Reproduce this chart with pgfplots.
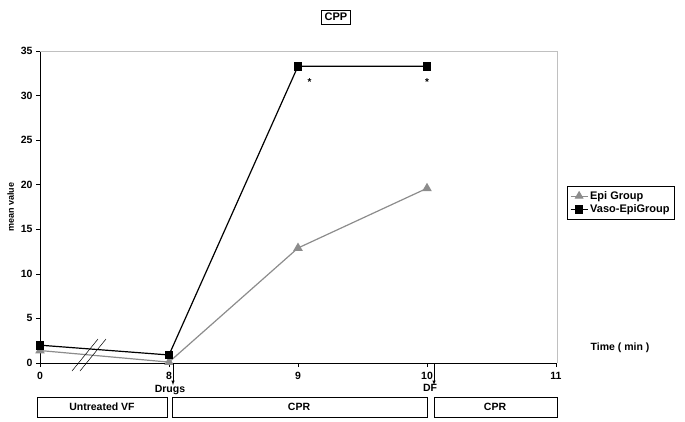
\documentclass[border=0pt]{standalone}
\usepackage{pgfplots}
\pgfplotsset{compat=1.18}
\usepackage{fontspec}
\setmainfont{Liberation Sans}
\definecolor{epigray}{HTML}{8C8C8C}
\definecolor{framegray}{HTML}{C0C0C0}

\begin{document}
\begin{tikzpicture}[font=\bfseries\fontsize{10}{11}\selectfont]
\begin{scope}[x=1pt,y=1pt]
\path[use as bounding box] (0,0) rectangle (685,-421);
\end{scope}
\begin{axis}[
  at={(40pt,-363pt)}, anchor=south west,
  width=516pt, height=312pt, scale only axis,
  xmin=0, xmax=4, ymin=0, ymax=35,
  xtick={0,1,2,3,4}, xticklabels={0,8,9,10,11},
  ytick={0,5,...,35},
  axis x line*=bottom, axis y line*=left,
  tick align=outside, tick style={black, line width=0.5pt},
  major tick length=4pt,
  x tick label style={yshift=-2pt},
  tick label style={font=\bfseries\fontsize{10.5}{12}\selectfont},
  /pgf/number format/assume math mode=true,
  axis line style={black, line width=0.8pt},
  ylabel={mean value},
  ylabel style={font=\bfseries\fontsize{9}{10}\selectfont},
  legend style={at={(1.021,0.567)}, anchor=north west, draw=black, line width=0.5pt,
    font=\bfseries\fontsize{11}{13}\selectfont, row sep=0pt, inner sep=3pt},
  legend cell align=left,
  legend image post style={line width=1pt},
  clip=false,
]
\addplot[epigray, line width=1.2pt, mark=triangle*, mark size=4.3pt, mark options={fill=epigray, draw=epigray}]
  coordinates {(0,1.4) (1,0.1) (2,12.9) (3,19.6)};
\addlegendentry{Epi Group}
\addplot[black, line width=1.2pt, mark=square*, mark size=3.8pt, mark options={fill=black}]
  coordinates {(0,2.0) (1,0.9) (2,33.3) (3,33.3)};
\addlegendentry{Vaso-EpiGroup}
\node[font=\bfseries\fontsize{10}{11}\selectfont] at (axis cs:2.09,31.5) {*};
\node[font=\bfseries\fontsize{10}{11}\selectfont] at (axis cs:3,31.5) {*};
\end{axis}
\begin{scope}[x=1pt,y=1pt]
% frame top and right
\draw[framegray, line width=1pt] (40,-51) -- (557,-51) -- (557,-363);
% title
\node[draw=black, line width=0.5pt, inner sep=3pt, font=\bfseries\fontsize{11}{12}\selectfont] at (336,-17) {CPP};
% axis break
\draw[black, line width=0.5pt] (72,-371) -- (98,-339);
\draw[black, line width=0.5pt] (80,-371) -- (106,-339);
% time label
\node[font=\bfseries\fontsize{10.5}{12}\selectfont] at (620,-348) {Time ( min )};
% arrows
\draw[-latex, line width=0.5pt] (173,-363) -- (173,-385);
\node[font=\bfseries\fontsize{10.5}{12}\selectfont] at (170,-390) {Drugs};
\draw[-latex, line width=0.5pt] (434,-363) -- (434,-385);
\node[font=\bfseries\fontsize{10.5}{12}\selectfont] at (430,-388) {DF};
% phase boxes
\draw[black, line width=0.5pt] (37,-397) rectangle (167,-417);
\node[font=\bfseries\fontsize{10.5}{12}\selectfont] at (102,-407) {Untreated VF};
\draw[black, line width=0.5pt] (172,-397) rectangle (427,-417);
\node[font=\bfseries\fontsize{10.5}{12}\selectfont] at (299,-407) {CPR};
\draw[black, line width=0.5pt] (434,-397) rectangle (557,-417);
\node[font=\bfseries\fontsize{10.5}{12}\selectfont] at (495,-407) {CPR};
\end{scope}
\end{tikzpicture}
\end{document}
